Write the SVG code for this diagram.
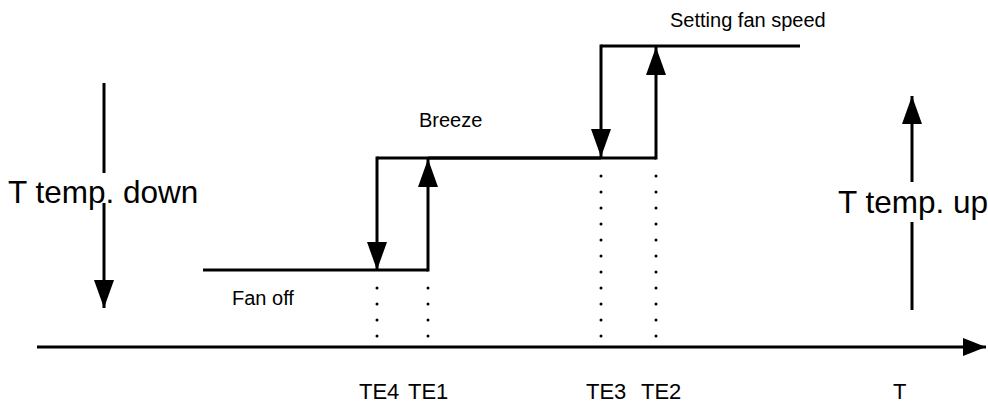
<svg xmlns="http://www.w3.org/2000/svg" width="988" height="408" viewBox="0 0 988 408">
<style>
.ln{stroke:#000;stroke-width:3;fill:none}
.dot{stroke:#000;stroke-width:3;stroke-linecap:round;stroke-dasharray:0 16;fill:none}
text{font-family:"Liberation Sans",Arial,sans-serif;fill:#000}
.big{font-size:31.5px}
.sm{font-size:20px}
.te{font-size:22px}
</style>
<defs>
<marker id="ah" viewBox="0 0 28 20" refX="28" refY="10" markerWidth="28" markerHeight="20" markerUnits="userSpaceOnUse" orient="auto">
<path d="M0,0 L28,10 L0,20 z" fill="#000"/>
</marker>
<marker id="ax" viewBox="0 0 23 18" refX="23" refY="9" markerWidth="23" markerHeight="18" markerUnits="userSpaceOnUse" orient="auto">
<path d="M0,0 L23,9 L0,18 z" fill="#000"/>
</marker>
</defs>
<rect width="988" height="408" fill="#fff"/>
<g id="connectors">
<path class="ln" d="M37,347 H986" marker-end="url(#ax)"/>
<path class="ln" d="M203,270 H428"/>
<path class="ln" d="M428,271.5 V159" marker-end="url(#ah)"/>
<path class="ln" d="M428,158 H656"/>
<path class="ln" d="M377,156.5 V270" marker-end="url(#ah)"/>
<path class="ln" d="M377,158 H601"/>
<path class="ln" d="M601,44.5 V157" marker-end="url(#ah)"/>
<path class="ln" d="M601,46 H800"/>
<path class="ln" d="M656,159.5 V47" marker-end="url(#ah)"/>
<path class="dot" d="M377,288 V340"/>
<path class="dot" d="M428,288 V340"/>
<path class="dot" d="M601,176 V340"/>
<path class="dot" d="M656,176 V340"/>
</g>
<g id="temp-down">
<path class="ln" d="M104,83 V173"/>
<path class="ln" d="M104,203 V308" marker-end="url(#ah)"/>
<text class="big" x="8" y="203">T temp. down</text>
</g>
<g id="temp-up">
<path class="ln" d="M912,310 V222"/>
<path class="ln" d="M912,182 V96" marker-end="url(#ah)"/>
<text class="big" x="838" y="213">T temp. up</text>
</g>
<g id="fan-off"><text class="sm" x="232" y="305">Fan off</text></g>
<g id="breeze"><text class="sm" x="419" y="127">Breeze</text></g>
<g id="setting"><text class="sm" x="670" y="27">Setting fan speed</text></g>
<g id="te4"><text class="te" x="359" y="399">TE4</text></g>
<g id="te1"><text class="te" x="408" y="399">TE1</text></g>
<g id="te3"><text class="te" x="586" y="399">TE3</text></g>
<g id="te2"><text class="te" x="641" y="399">TE2</text></g>
<g id="t-axis"><text class="te" x="893" y="399">T</text></g>
</svg>
